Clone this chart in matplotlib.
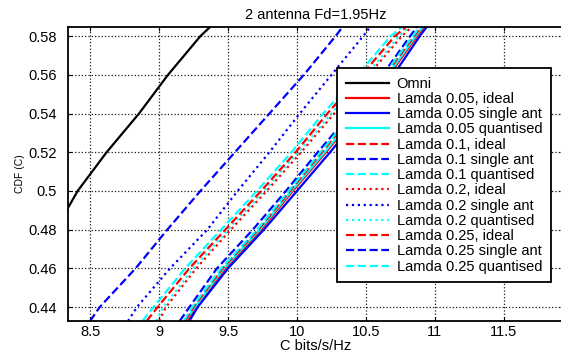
# -*- coding: utf-8 -*-
"""
CDF of capacity, 2 antenna, Fd=1.95Hz
"""

import matplotlib
matplotlib.use('Agg')
import matplotlib.pyplot as plt

plt.rcParams['font.family'] = ['Liberation Sans', 'DejaVu Sans']

cdf_levels = [0.4328, 0.44, 0.46, 0.48, 0.50, 0.52, 0.54, 0.56, 0.58, 0.5847]

# capacity (bits/s/Hz) of each curve at those levels
omni = [7.73, 7.81, 8.03, 8.25, 8.41, 8.62, 8.855, 9.065, 9.30, 9.37]

l005_ideal = [9.21, 9.27, 9.48, 9.74, 9.97, 10.21, 10.44, 10.67, 10.87, 10.92]
l005_single = [9.22, 9.28, 9.50, 9.76, 10.00, 10.24, 10.47, 10.70, 10.89, 10.94]
l005_quant = [9.19, 9.26, 9.47, 9.73, 9.96, 10.20, 10.43, 10.66, 10.86, 10.91]

l01_ideal = [9.19, 9.25, 9.46, 9.72, 9.95, 10.18, 10.41, 10.64, 10.85, 10.90]
l01_single = [9.15, 9.22, 9.42, 9.68, 9.92, 10.15, 10.39, 10.62, 10.82, 10.87]
l01_quant = [9.18, 9.24, 9.45, 9.71, 9.94, 10.17, 10.40, 10.63, 10.84, 10.89]

l02_ideal = [9.00, 9.05, 9.27, 9.52, 9.78, 10.03, 10.27, 10.52, 10.76, 10.83]
l02_single = [8.775, 8.84, 9.08, 9.35, 9.57, 9.80, 10.02, 10.25, 10.48, 10.53]
l02_quant = [8.98, 9.03, 9.25, 9.50, 9.76, 10.01, 10.25, 10.50, 10.74, 10.81]

l025_ideal = [8.91, 8.99, 9.22, 9.48, 9.74, 9.99, 10.22, 10.47, 10.71, 10.79]
l025_single = [8.50, 8.57, 8.83, 9.06, 9.30, 9.55, 9.80, 10.05, 10.28, 10.33]
l025_quant = [8.88, 8.96, 9.19, 9.45, 9.71, 9.96, 10.19, 10.44, 10.68, 10.76]

x_ticks = [8.5, 9, 9.5, 10, 10.5, 11, 11.5]
x_tick_labels = ['8.5', '9', '9.5', '10', '10.5', '11', '11.5']
y_ticks = [0.44, 0.46, 0.48, 0.5, 0.52, 0.54, 0.56, 0.58]
y_tick_labels = ['0.44', '0.46', '0.48', '0.5', '0.52', '0.54', '0.56', '0.58']


def plot_cdf(output_path='out.png'):
    fig = plt.figure(figsize=(5.61, 3.54), dpi=100)
    ax = fig.add_axes([0.1212, 0.0932, 0.884, 0.8305])

    lw = 1.6
    series = [
        (omni, 'k', '-', 'Omni'),
        (l005_ideal, 'r', '-', 'Lamda 0.05, ideal'),
        (l005_single, 'b', '-', 'Lamda 0.05 single ant'),
        (l005_quant, 'c', '-', 'Lamda 0.05 quantised'),
        (l01_ideal, 'r', '--', 'Lamda 0.1, ideal'),
        (l01_single, 'b', '--', 'Lamda 0.1 single ant'),
        (l01_quant, 'c', '--', 'Lamda 0.1 quantised'),
        (l02_ideal, 'r', ':', 'Lamda 0.2, ideal'),
        (l02_single, 'b', ':', 'Lamda 0.2 single ant'),
        (l02_quant, 'c', ':', 'Lamda 0.2 quantised'),
        (l025_ideal, 'r', '--', 'Lamda 0.25, ideal'),
        (l025_single, 'b', '--', 'Lamda 0.25 single ant'),
        (l025_quant, 'c', '--', 'Lamda 0.25 quantised'),
    ]
    colors = {'k': '#000000', 'r': '#ff0000', 'b': '#0000ff', 'c': '#00ffff'}
    for xs, c, ls, label in series:
        ax.plot(xs, cdf_levels, color=colors[c], linestyle=ls, linewidth=lw, label=label)

    ax.set_xlim(8.34, 11.935)
    ax.set_ylim(0.4328, 0.5847)
    ax.set_xticks(x_ticks)
    ax.set_xticklabels(x_tick_labels)
    ax.set_yticks(y_ticks)
    ax.set_yticklabels(y_tick_labels)
    ax.tick_params(direction='in', top=True, right=True, length=3, labelsize=10.5)
    ax.tick_params(axis='x', pad=3)
    ax.tick_params(axis='y', pad=8)

    ax.grid(True, color='0.1', linestyle=':', linewidth=0.9)
    for s in ax.spines.values():
        s.set_linewidth(1.3)

    ax.set_title('2 antenna Fd=1.95Hz', fontsize=10.5, pad=6)
    ax.set_xlabel('C bits/s/Hz', fontsize=10.5, labelpad=0)
    ax.set_ylabel('CDF (C)', fontsize=7.5, labelpad=2.5)

    leg = ax.legend(loc='upper left', bbox_to_anchor=(0.542, 0.8605), fontsize=10.5,
                    handlelength=3.0, handletextpad=0.5, labelspacing=0.085,
                    borderpad=0.6, borderaxespad=0, fancybox=False, framealpha=1)
    leg.get_frame().set_edgecolor('k')
    leg.get_frame().set_linewidth(1.3)

    fig.savefig(output_path, dpi=100)
    plt.close(fig)


if __name__ == '__main__':
    plot_cdf()
